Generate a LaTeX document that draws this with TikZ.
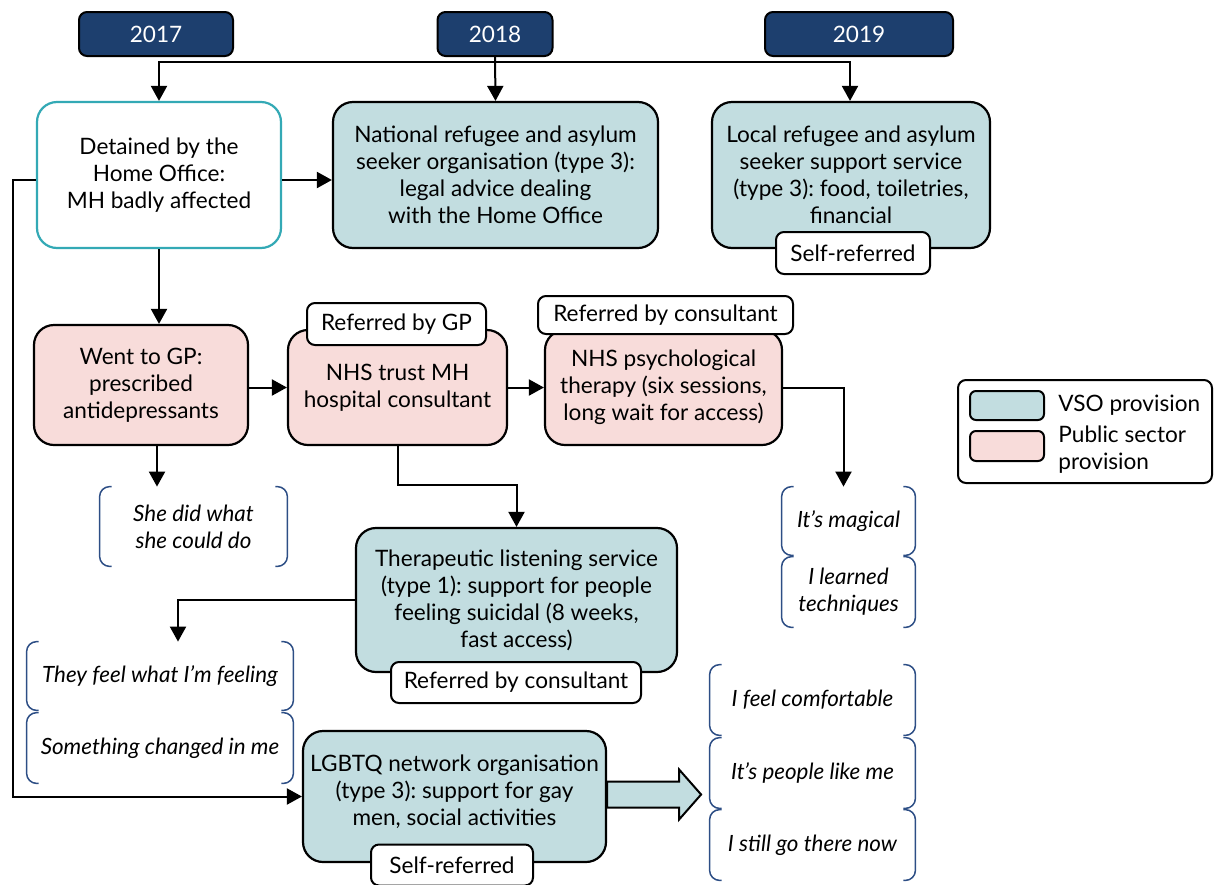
\documentclass[tikz,border=0pt]{standalone}
\usepackage{fontspec}
\setmainfont{Lato}
\usetikzlibrary{arrows.meta,calc}
\definecolor{yearblue}{HTML}{1D3F6E}
\definecolor{vsoblue}{HTML}{C2DDE0}
\definecolor{pubpink}{HTML}{F8DCDA}
\definecolor{tealb}{HTML}{33A9B5}
\definecolor{brkblue}{HTML}{2D4E85}
\frenchspacing
\newcommand\qbr[1]{%
  \draw[brk] ([xshift=6pt]#1.north west) -- (#1.north west) -- (#1.south west) -- ([xshift=6pt]#1.south west);
  \draw[brk] ([xshift=-6pt]#1.north east) -- (#1.north east) -- (#1.south east) -- ([xshift=-6pt]#1.south east);}
\begin{document}
\begin{tikzpicture}[x=0.5pt,y=-0.5pt,
  font=\fontsize{11.3}{13.5}\selectfont,
  box/.style={draw=black, line width=1.1pt, rounded corners=10pt, align=center, inner sep=2pt},
  vso/.style={box, fill=vsoblue},
  pub/.style={box, fill=pubpink},
  tag/.style={draw=black, line width=1pt, fill=white, rounded corners=4pt, inner sep=0pt},
  yearbox/.style={draw=black, line width=1pt, fill=yearblue, text=white, rounded corners=4pt, minimum height=22pt, inner sep=0pt},
  quote/.style={font=\fontsize{11.2}{13.5}\selectfont\itshape, align=center, inner sep=0pt},
  arr/.style={line width=1pt, -{Triangle[width=8pt,length=7.5pt]}},
  brk/.style={draw=brkblue, line width=0.75pt, rounded corners=5pt},
  legsw/.style={draw=black, line width=1pt, rounded corners=3pt, minimum width=37pt, minimum height=14.5pt, inner sep=0pt}
]
\useasboundingbox (0,0) rectangle (1214,884);

% year boxes
\node[yearbox, minimum width=77pt] (y17) at (156,34) {2017};
\node[yearbox, minimum width=57.5pt] (y18) at (495,34) {2018};
\node[yearbox, minimum width=94pt] (y19) at (859,34) {2019};

% main boxes
\node[box, draw=tealb, fill=white, minimum width=122pt, minimum height=73pt] (det) at (159,175)
  {Detained by the\\Home Office:\\MH badly affected};
\node[vso, minimum width=162.5pt, minimum height=73pt] (nat) at (495.5,175)
  {National refugee and asylum\\seeker organisation (type 3):\\legal advice dealing\\with the Home Office};
\node[vso, minimum width=139pt, minimum height=73pt] (loc) at (851,175)
  {Local refugee and asylum\\seeker support service\\(type 3): food, toiletries,\\financial};
\node[pub, minimum width=107pt, minimum height=60pt] (gp) at (141,385)
  {Went to GP:\\prescribed\\antidepressants};
\node[pub, minimum width=109.5pt, minimum height=57.5pt] (nhs) at (397.5,387.5)
  {NHS trust MH\\hospital consultant};
\node[pub, minimum width=118.5pt, minimum height=57.5pt] (psy) at (663.5,387.5)
  {NHS psychological\\therapy (six sessions,\\long wait for access)};
\node[vso, minimum width=160.5pt, minimum height=72pt] (ther) at (516.5,600)
  {Therapeutic listening service\\(type 1): support for people\\feeling suicidal (8 weeks,\\fast access)};
\node[vso, minimum width=151.5pt, minimum height=65.5pt] (lgb) at (454.5,796.5)
  {LGBTQ network organisation\\(type 3): support for gay\\men, social activities\\[-7.5pt]};

% block arrow
\coordinate (ba) at ([yshift=1pt]lgb.east);
\draw[line width=1pt, fill=vsoblue] ([yshift=6.5pt]ba) -- ++(72,0) -- ++(0,-12) -- ++(22,25) -- ++(-22,25) -- ++(0,-12) -- ++(-72,0) -- cycle;

% tags
\node[tag, minimum width=77pt, minimum height=21pt] (t1) at (853,253) {Self-referred};
\node[tag, minimum width=89.5pt, minimum height=21pt] (t2) at (396.5,324) {Referred by GP};
\node[tag, minimum width=127.5pt, minimum height=19pt] (t3) at (665.5,315) {Referred by consultant};
\node[tag, minimum width=125pt, minimum height=20.5pt] (t4) at (516,682.5) {Referred by consultant};
\node[tag, minimum width=81pt, minimum height=20.5pt] (t5) at (452,865) {Self-referred};

% quotes
\node[quote, minimum width=93.5pt, minimum height=39.5pt] (she) at (193.5,526.5) {She did what\\she could do};
\node[quote, minimum width=66.5pt, minimum height=34pt] (mag) at (848.5,521) {It’s magical};
\node[quote, minimum width=66.5pt, minimum height=35pt] (lrn) at (848.5,592) {I learned\\techniques};
\node[quote, minimum width=133pt, minimum height=34pt] (they) at (160,676) {They feel what I’m feeling};
\node[quote, minimum width=133pt, minimum height=35pt] (smt) at (160,748) {Something changed in me};
\node[quote, minimum width=102.5pt, minimum height=35pt] (cmf) at (812.5,700) {I feel comfortable};
\node[quote, minimum width=102.5pt, minimum height=35pt] (ppl) at (812.5,773) {It’s people like me};
\node[quote, minimum width=102.5pt, minimum height=35pt] (stl) at (812.5,845) {I still go there now};
\qbr{she}\qbr{mag}\qbr{lrn}\qbr{they}\qbr{smt}\qbr{cmf}\qbr{ppl}\qbr{stl}

% legend
\node[draw=black, line width=1pt, rounded corners=4pt, minimum width=127pt, minimum height=51.5pt] (leg) at (1085,431.5) {};
\node[legsw, fill=vsoblue] (sw1) at (1007,405.5) {};
\node[legsw, fill=pubpink, minimum height=15pt] (sw2) at (1007,446) {};
\node[anchor=west, inner sep=0pt] (l1) at (1058,405) {VSO provision};
\node[anchor=west, inner sep=0pt, align=left] (l2) at (1058,450) {Public sector\\provision};

% connectors
\coordinate (j) at (495,62);
\draw[arr] (y18.south) -- (nat.north);
\draw[arr] (j) -| (det.north);
\draw[arr] (j) -| ([xshift=-0.5pt]loc.north);
\draw[arr] ([yshift=-2.5pt]det.east) -- ([yshift=-2.5pt]nat.west);
\coordinate (lc) at (13,0);
\draw[arr] ([yshift=-2.5pt]det.west) -| (lc |- lgb.west) -- (lgb.west);
\draw[arr] (det.south) -- (det.south |- gp.north);
\draw[arr] (gp.east |- nhs.east) -- (nhs.west);
\draw[arr] (nhs.east) -- (psy.west);
\draw[arr] (psy.east) -| ([xshift=-2.5pt]mag.north);
\draw[arr] ([xshift=8pt]gp.south) -- ([xshift=8pt]gp.south |- she.north);
\coordinate (m1) at (0,485);
\draw[arr] (nhs.south) |- (m1 -| ther.north) -- (ther.north);
\draw[arr] (ther.west) -| ([xshift=9pt]they.north);
\end{tikzpicture}
\end{document}
